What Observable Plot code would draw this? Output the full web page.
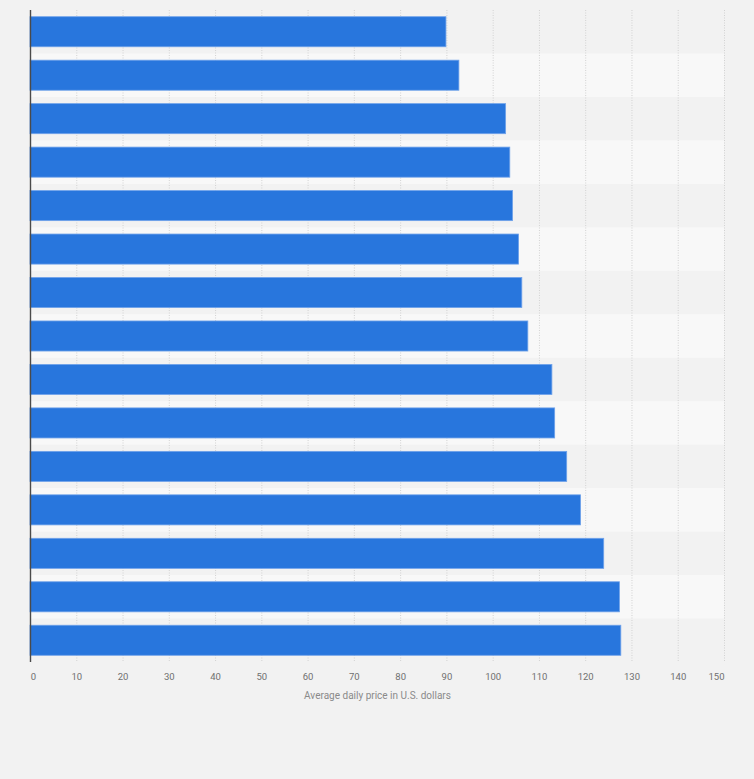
<!DOCTYPE html>
<html>
<head>
<meta charset="utf-8">
<script src="https://cdn.jsdelivr.net/npm/d3@7"></script>
<script src="https://cdn.jsdelivr.net/npm/@observablehq/plot@0.6"></script>
<style>
  html, body { margin: 0; padding: 0; background: #f2f2f2; }
  #chart { width: 754px; height: 779px; }
  svg { display: block; }
</style>
</head>
<body>
<div id="chart"></div>
<script>
const categories = ["Rank 1","Rank 2","Rank 3","Rank 4","Rank 5","Rank 6","Rank 7","Rank 8","Rank 9","Rank 10","Rank 11","Rank 12","Rank 13","Rank 14","Rank 15"];
const values = [89.9, 92.7, 102.8, 103.7, 104.3, 105.6, 106.3, 107.6, 112.8, 113.4, 116.0, 119.0, 124.0, 127.4, 127.7];
const xTicks = [0,10,20,30,40,50,60,70,80,90,100,110,120,130,140,150];
const xTitle = "Average daily price in U.S. dollars";

const data = categories.map((c, i) => ({category: c, value: values[i], index: i}));
const midTicks = xTicks.slice(1, -1);

const chart = Plot.plot({
  width: 754,
  height: 779,
  marginLeft: 30,
  marginRight: 30,
  marginTop: 10,
  marginBottom: 117,
  style: {background: "#f2f2f2", fontFamily: "Roboto, 'Liberation Sans', sans-serif"},
  x: {domain: [0, 150], axis: null},
  y: {domain: categories, padding: 0, round: false, axis: null},
  marks: [
    Plot.barX(data.filter(d => d.index % 2 === 1), {y: "category", x1: 0, x2: 150, fill: "#f8f8f8"}),
    Plot.ruleX(xTicks.slice(1), {stroke: "#d2d2d2", strokeWidth: 1, strokeDasharray: "1,1.5"}),
    Plot.barX(data, {y: "category", x: "value", fill: "#2876dd", stroke: "#6fa2ea", strokeWidth: 0.8, insetTop: 6.7, insetBottom: 6.7}),
    Plot.ruleX([0], {stroke: "#4a4a4a", strokeWidth: 1.4}),
    Plot.text(midTicks, {x: d => d, text: d => String(d), frameAnchor: "bottom", dy: 14.5, lineAnchor: "middle", fontSize: 9.5, fill: "#707070"}),
    Plot.text([xTicks[0]], {x: d => d, text: d => String(d), frameAnchor: "bottom", dy: 14.5, dx: 3, lineAnchor: "middle", fontSize: 9.5, fill: "#707070"}),
    Plot.text([xTicks[xTicks.length - 1]], {x: d => d, text: d => String(d), frameAnchor: "bottom", dy: 14.5, dx: -8, lineAnchor: "middle", fontSize: 9.5, fill: "#707070"}),
    Plot.text([xTitle], {x: 75, text: d => d, frameAnchor: "bottom", dy: 33.5, lineAnchor: "middle", fontSize: 10, fill: "#8a8a8a"})
  ]
});
document.getElementById("chart").appendChild(chart);
</script>
</body>
</html>
